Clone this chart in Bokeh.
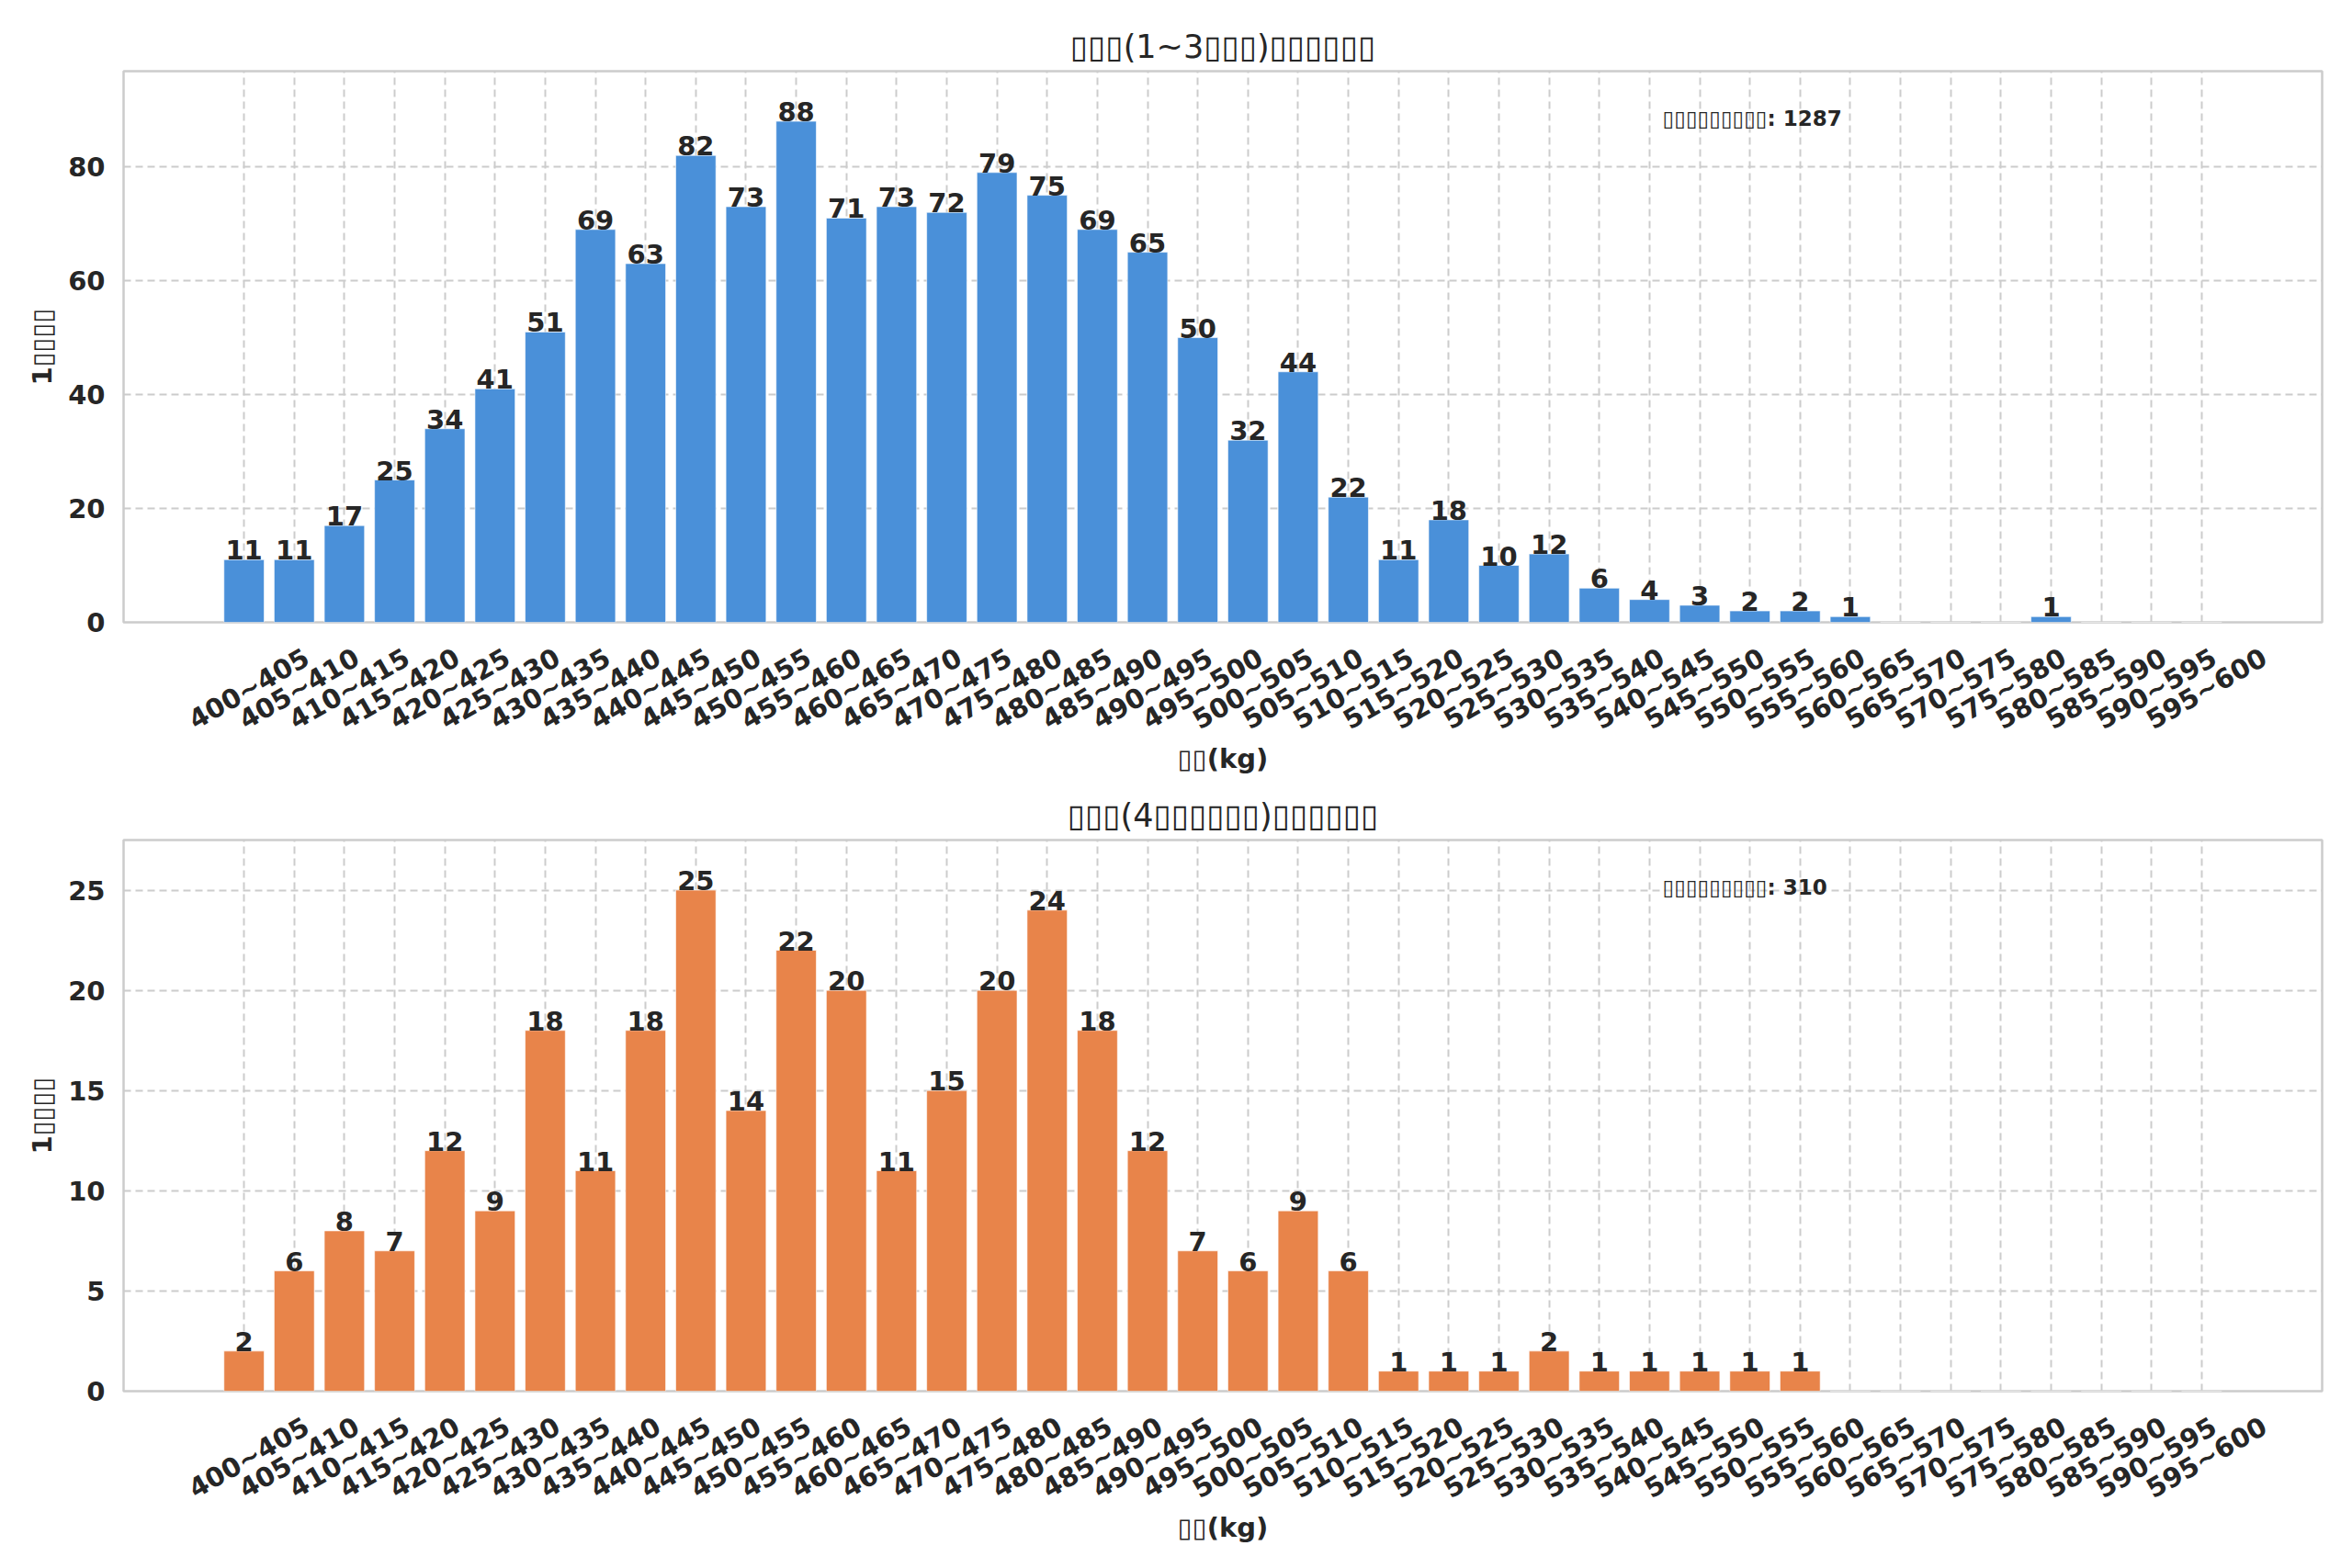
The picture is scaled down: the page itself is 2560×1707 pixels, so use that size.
import numpy as np
from bokeh.core.properties import value
from bokeh.layouts import column
from bokeh.models import Range1d, FixedTicker, Label
from bokeh.plotting import figure
from bokeh.embed import file_html
from bokeh.resources import INLINE

# 5kg bins, 400~600
bins = ["%d~%d" % (lo, lo + 5) for lo in range(400, 600, 5)]

counts_1_3 = [11, 11, 17, 25, 34, 41, 51, 69, 63, 82,
              73, 88, 71, 73, 72, 79, 75, 69, 65, 50,
              32, 44, 22, 11, 18, 10, 12, 6, 4, 3,
              2, 2, 1, 0, 0, 0, 1, 0, 0, 0]
counts_4 = [2, 6, 8, 7, 12, 9, 18, 11, 18, 25,
            14, 22, 20, 11, 15, 20, 24, 18, 12, 7,
            6, 9, 6, 1, 1, 1, 2, 1, 1, 1,
            1, 1, 0, 0, 0, 0, 0, 0, 0, 0]

yticks_1_3 = [0, 20, 40, 60, 80]
yticks_4 = [0, 5, 10, 15, 20, 25]

# labels as they appear in the picture (glyphs missing in the source font)
titles = ["▯▯▯(1~3▯▯▯)▯▯▯▯▯▯", "▯▯▯(4▯▯▯▯▯▯)▯▯▯▯▯▯"]
x_label = "▯▯(kg)"
y_label = "1▯▯▯▯"
total_label = "▯▯▯▯▯▯▯▯▯: "

FONT = "DejaVu Sans"
INK = "#262626"
LABEL_SHIFT = 1.25  # moves rotated tick labels so they centre on the bar


def hist_panel(counts, yticks, color, title, top_border, bottom_border):
    idx = np.arange(len(bins))
    ymax = max(counts) * 1.1
    p = figure(frame_width=2393, frame_height=600, output_backend="svg",
               toolbar_location=None,
               x_range=Range1d(-2.4, len(bins) - 1 + 2.4), y_range=Range1d(0, ymax),
               min_border_left=134, min_border_right=9, min_border_top=top_border,
               min_border_bottom=bottom_border, background_fill_color="white",
               border_fill_color="white")
    p.title.text = title
    p.title.align = "center"
    p.title.text_font = FONT
    p.title.text_font_size = "35px"
    p.title.text_font_style = "normal"
    p.title.text_color = INK
    p.title.standoff = 13

    p.vbar(x=idx, top=counts, width=0.8, fill_color=color, line_color="white",
           line_alpha=0.6, line_width=1)

    nz = [i for i, c in enumerate(counts) if c > 0]
    p.text(x=[idx[i] for i in nz], y=[counts[i] for i in nz],
           text=[str(counts[i]) for i in nz], text_align="center",
           text_baseline="bottom", text_font=value(FONT), text_font_size="29px",
           text_font_style="bold", text_color=INK)

    # total count annotation (axes fraction 0.70, 0.915)
    xr = p.x_range
    p.add_layout(Label(x=xr.start + 0.70 * (xr.end - xr.start), y=0.915 * ymax,
                       text=total_label + str(sum(counts)), text_font=FONT,
                       text_font_size="23px", text_font_style="bold",
                       text_color=INK, text_baseline="middle"))

    shifted = [float(i) + LABEL_SHIFT for i in idx]
    p.xaxis.ticker = FixedTicker(ticks=shifted)
    p.xaxis.major_label_overrides = {t: b for t, b in zip(shifted, bins)}
    p.xaxis.major_label_orientation = np.pi / 6
    p.xgrid.ticker = FixedTicker(ticks=list(idx))
    p.xaxis.axis_label = x_label
    p.yaxis.axis_label = y_label
    p.yaxis.ticker = FixedTicker(ticks=yticks)
    for ax in (p.xaxis, p.yaxis):
        ax.major_label_text_font = FONT
        ax.major_label_text_font_size = "29px"
        ax.major_label_text_font_style = "bold"
        ax.major_label_text_color = INK
        ax.axis_label_text_font = FONT
        ax.axis_label_text_font_size = "29px"
        ax.axis_label_text_font_style = "bold"
        ax.axis_label_text_color = INK
        ax.axis_line_color = None
        ax.major_tick_line_color = None
        ax.minor_tick_line_color = None
    p.yaxis.major_label_standoff = 14
    p.xaxis.major_label_standoff = 30
    p.yaxis.axis_label_standoff = 8
    p.xaxis.axis_label_standoff = -10

    for g in (p.xgrid, p.ygrid):
        g.grid_line_color = "#cccccc"
        g.grid_line_dash = "8 5"
        g.grid_line_width = 2
    p.outline_line_color = "#cccccc"
    p.outline_line_width = 2.5
    return p


top = hist_panel(counts_1_3, yticks_1_3, "#4a90d9", titles[0], 77, 162)
bottom = hist_panel(counts_4, yticks_4, "#e8844a", titles[1], 69, 150)
page = column(top, bottom, spacing=0)

open("out.html", "w").write(file_html(page, INLINE))
